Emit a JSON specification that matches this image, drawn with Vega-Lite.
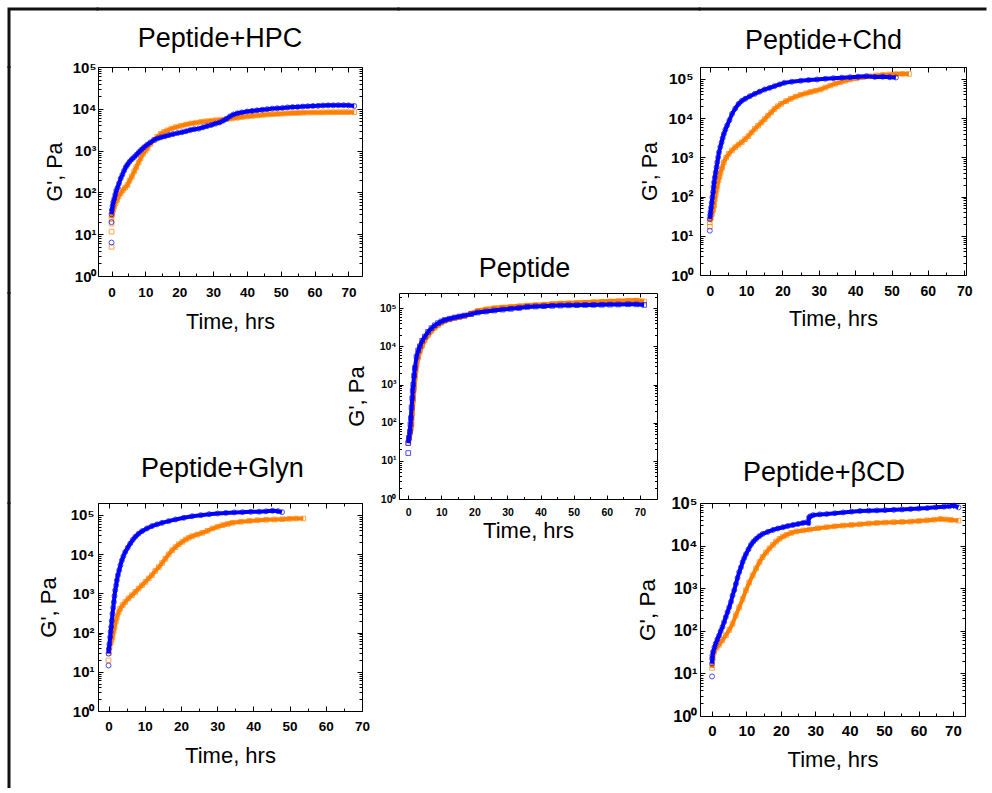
{
"$schema": "https://vega.github.io/schema/vega-lite/v6.json",
"padding": {"left": 6, "top": 6, "right": 0, "bottom": 0},
"background": "white",
"config": {
 "view": {"stroke": "#000", "strokeWidth": 1},
 "font": "Liberation Sans",
 "axis": {"grid": false, "domain": false, "tickColor": "#000", "tickWidth": 1, "labelColor": "#000", "labelFontWeight": "bold", "labelFlush": false, "labelOverlap": false, "labelBound": false, "titleColor": "#000", "titleFontWeight": "normal", "labelFont": "Liberation Sans", "titleFont": "Liberation Sans"},
 "title": {"font": "Liberation Sans", "fontSize": 27, "fontWeight": "normal", "color": "#000", "anchor": "middle", "frame": "group", "baseline": "alphabetic"}
},
"datasets": {
 "hpc": [
  {"s":"o","t":0,"g":5,"i":1},{"s":"o","t":0,"g":11.5,"i":1},{"s":"o","t":0,"g":18,"i":1},
  {"s":"o","t":0,"g":24},{"s":"o","t":0.2,"g":30},{"s":"o","t":0.5,"g":38},{"s":"o","t":0.8,"g":46},{"s":"o","t":1.2,"g":56},{"s":"o","t":1.6,"g":66},{"s":"o","t":2.1,"g":80},{"s":"o","t":2.7,"g":95},{"s":"o","t":3.3,"g":112},{"s":"o","t":4,"g":130},{"s":"o","t":4.7,"g":150},{"s":"o","t":5.3,"g":190},{"s":"o","t":6,"g":240},{"s":"o","t":6.7,"g":317},{"s":"o","t":7.3,"g":400},{"s":"o","t":8,"g":520},{"s":"o","t":8.6,"g":660},{"s":"o","t":9.3,"g":830},{"s":"o","t":10,"g":1000},{"s":"o","t":10.6,"g":1130},{"s":"o","t":11.5,"g":1450},{"s":"o","t":12.6,"g":1800},{"s":"o","t":13.5,"g":2150},{"s":"o","t":14.5,"g":2500},{"s":"o","t":15.5,"g":2800},{"s":"o","t":16.5,"g":3050},{"s":"o","t":17.7,"g":3350},{"s":"o","t":19,"g":3650},{"s":"o","t":20.5,"g":3900},{"s":"o","t":22,"g":4200},{"s":"o","t":23.5,"g":4450},{"s":"o","t":25,"g":4650},{"s":"o","t":26.5,"g":4850},{"s":"o","t":28,"g":5050},{"s":"o","t":29.5,"g":5200},{"s":"o","t":31,"g":5350},{"s":"o","t":32.5,"g":5500},{"s":"o","t":34,"g":5650},{"s":"o","t":35.5,"g":5850},{"s":"o","t":37,"g":6100},{"s":"o","t":38.5,"g":6350},{"s":"o","t":40,"g":6550},{"s":"o","t":41.5,"g":6750},{"s":"o","t":43,"g":6950},{"s":"o","t":44.5,"g":7100},{"s":"o","t":46,"g":7300},{"s":"o","t":47.5,"g":7450},{"s":"o","t":49,"g":7550},{"s":"o","t":50.5,"g":7650},{"s":"o","t":52,"g":7800},{"s":"o","t":53.5,"g":7900},{"s":"o","t":55,"g":7950},{"s":"o","t":56.5,"g":8050},{"s":"o","t":58,"g":8100},{"s":"o","t":59.5,"g":8150},{"s":"o","t":61,"g":8200},{"s":"o","t":62.5,"g":8200},{"s":"o","t":64,"g":8250},{"s":"o","t":65.5,"g":8250},{"s":"o","t":67,"g":8300},{"s":"o","t":68.5,"g":8300},{"s":"o","t":70,"g":8300},{"s":"o","t":71.7,"g":8300},
  {"s":"b","t":0,"g":6.3,"i":1},{"s":"b","t":0,"g":19.5,"i":1},
  {"s":"b","t":0,"g":30},{"s":"b","t":0.1,"g":38},{"s":"b","t":0.3,"g":47},{"s":"b","t":0.5,"g":58},{"s":"b","t":0.8,"g":70},{"s":"b","t":1.1,"g":88},{"s":"b","t":1.4,"g":110},{"s":"b","t":1.8,"g":130},{"s":"b","t":2.2,"g":165},{"s":"b","t":2.7,"g":215},{"s":"b","t":3.2,"g":265},{"s":"b","t":3.7,"g":330},{"s":"b","t":4.2,"g":400},{"s":"b","t":4.7,"g":460},{"s":"b","t":5.3,"g":540},{"s":"b","t":6,"g":620},{"s":"b","t":6.7,"g":700},{"s":"b","t":7.4,"g":800},{"s":"b","t":8.1,"g":920},{"s":"b","t":8.8,"g":1050},{"s":"b","t":9.6,"g":1200},{"s":"b","t":10.5,"g":1380},{"s":"b","t":11.5,"g":1580},{"s":"b","t":12.6,"g":1800},{"s":"b","t":13.6,"g":1950},{"s":"b","t":14.6,"g":2080},{"s":"b","t":15.8,"g":2200},{"s":"b","t":17,"g":2350},{"s":"b","t":18.2,"g":2480},{"s":"b","t":19.5,"g":2620},{"s":"b","t":20.8,"g":2750},{"s":"b","t":22,"g":2900},{"s":"b","t":23.3,"g":3100},{"s":"b","t":24.5,"g":3250},{"s":"b","t":25.8,"g":3350},{"s":"b","t":27,"g":3600},{"s":"b","t":28.2,"g":3850},{"s":"b","t":29.5,"g":4100},{"s":"b","t":30.7,"g":4400},{"s":"b","t":31.9,"g":4700},{"s":"b","t":33,"g":5200},{"s":"b","t":34,"g":5800},{"s":"b","t":35,"g":6600},{"s":"b","t":36,"g":7300},{"s":"b","t":37.2,"g":7800},{"s":"b","t":38.5,"g":8200},{"s":"b","t":40,"g":8600},{"s":"b","t":41.5,"g":8900},{"s":"b","t":43,"g":9200},{"s":"b","t":44.5,"g":9500},{"s":"b","t":46,"g":9800},{"s":"b","t":47.5,"g":10100},{"s":"b","t":49,"g":10300},{"s":"b","t":50.5,"g":10500},{"s":"b","t":52,"g":10800},{"s":"b","t":53.5,"g":11000},{"s":"b","t":55,"g":11100},{"s":"b","t":56.5,"g":11300},{"s":"b","t":58,"g":11500},{"s":"b","t":59.5,"g":11700},{"s":"b","t":61,"g":11800},{"s":"b","t":62.5,"g":12000},{"s":"b","t":64,"g":12100},{"s":"b","t":65.5,"g":12100},{"s":"b","t":67,"g":12200},{"s":"b","t":68.5,"g":12200},{"s":"b","t":70,"g":12100},{"s":"b","t":71.7,"g":11700}
 ],
 "chd": [
  {"s":"o","t":0,"g":17,"i":1},
  {"s":"o","t":0,"g":22},{"s":"o","t":0.3,"g":28},{"s":"o","t":0.6,"g":36},{"s":"o","t":0.9,"g":46},{"s":"o","t":1.17,"g":59},{"s":"o","t":1.4,"g":85},{"s":"o","t":1.62,"g":115},{"s":"o","t":1.85,"g":150},{"s":"o","t":2.07,"g":190},{"s":"o","t":2.4,"g":260},{"s":"o","t":2.7,"g":330},{"s":"o","t":2.97,"g":415},{"s":"o","t":3.4,"g":550},{"s":"o","t":3.87,"g":750},{"s":"o","t":4.5,"g":980},{"s":"o","t":5.2,"g":1220},{"s":"o","t":6.1,"g":1500},{"s":"o","t":7,"g":1800},{"s":"o","t":7.9,"g":2100},{"s":"o","t":8.8,"g":2420},{"s":"o","t":9.7,"g":2900},{"s":"o","t":10.6,"g":3450},{"s":"o","t":11.5,"g":4300},{"s":"o","t":12.4,"g":5300},{"s":"o","t":13.3,"g":6400},{"s":"o","t":14.2,"g":7700},{"s":"o","t":15.1,"g":9400},{"s":"o","t":16,"g":11500},{"s":"o","t":16.9,"g":14000},{"s":"o","t":17.8,"g":17000},{"s":"o","t":18.7,"g":20000},{"s":"o","t":19.6,"g":23000},{"s":"o","t":21,"g":27000},{"s":"o","t":22.3,"g":31000},{"s":"o","t":23.6,"g":35000},{"s":"o","t":25,"g":39000},{"s":"o","t":26.4,"g":42500},{"s":"o","t":27.7,"g":46000},{"s":"o","t":29.1,"g":49500},{"s":"o","t":30.5,"g":53500},{"s":"o","t":31.8,"g":60000},{"s":"o","t":33.2,"g":67500},{"s":"o","t":34.5,"g":75000},{"s":"o","t":35.9,"g":82000},{"s":"o","t":37.2,"g":89000},{"s":"o","t":38.6,"g":96000},{"s":"o","t":40.4,"g":103000},{"s":"o","t":42.2,"g":110000},{"s":"o","t":44,"g":116000},{"s":"o","t":45.8,"g":122000},{"s":"o","t":47.6,"g":126000},{"s":"o","t":49.4,"g":129000},{"s":"o","t":51.2,"g":132000},{"s":"o","t":53,"g":134000},{"s":"o","t":54.8,"g":133000},
  {"s":"b","t":0,"g":13.5,"i":1},
  {"s":"b","t":0,"g":27},{"s":"b","t":0.1,"g":33},{"s":"b","t":0.2,"g":40},{"s":"b","t":0.35,"g":52},{"s":"b","t":0.54,"g":70},{"s":"b","t":0.7,"g":95},{"s":"b","t":0.9,"g":130},{"s":"b","t":1.05,"g":175},{"s":"b","t":1.17,"g":230},{"s":"b","t":1.4,"g":310},{"s":"b","t":1.62,"g":415},{"s":"b","t":1.85,"g":560},{"s":"b","t":2.07,"g":750},{"s":"b","t":2.3,"g":1000},{"s":"b","t":2.52,"g":1340},{"s":"b","t":2.9,"g":1850},{"s":"b","t":3.24,"g":2400},{"s":"b","t":3.55,"g":3100},{"s":"b","t":3.87,"g":3950},{"s":"b","t":4.3,"g":5100},{"s":"b","t":4.77,"g":6500},{"s":"b","t":5.4,"g":8800},{"s":"b","t":6.13,"g":12800},{"s":"b","t":7,"g":17500},{"s":"b","t":7.93,"g":23000},{"s":"b","t":8.8,"g":27500},{"s":"b","t":9.73,"g":31000},{"s":"b","t":11,"g":36000},{"s":"b","t":12.4,"g":41500},{"s":"b","t":13.7,"g":47000},{"s":"b","t":15.1,"g":53500},{"s":"b","t":16.5,"g":59000},{"s":"b","t":17.8,"g":65000},{"s":"b","t":19.2,"g":72000},{"s":"b","t":20.5,"g":79000},{"s":"b","t":22.5,"g":84000},{"s":"b","t":25,"g":89000},{"s":"b","t":27.2,"g":93000},{"s":"b","t":29.5,"g":96000},{"s":"b","t":31.8,"g":100000},{"s":"b","t":34,"g":104000},{"s":"b","t":36.3,"g":107000},{"s":"b","t":38.6,"g":110000},{"s":"b","t":40.8,"g":113000},{"s":"b","t":43.1,"g":117000},{"s":"b","t":45.4,"g":112000},{"s":"b","t":47.6,"g":113000},{"s":"b","t":49.5,"g":110000},{"s":"b","t":51.2,"g":108000}
 ],
 "pep": [
  {"s":"o","t":0,"g":30},{"s":"o","t":0.3,"g":40},{"s":"o","t":0.6,"g":55},{"s":"o","t":0.8,"g":70},{"s":"o","t":1,"g":89},{"s":"o","t":1.2,"g":180},{"s":"o","t":1.5,"g":400},{"s":"o","t":1.75,"g":800},{"s":"o","t":2,"g":1480},{"s":"o","t":2.25,"g":2300},{"s":"o","t":2.5,"g":3300},{"s":"o","t":3,"g":5200},{"s":"o","t":3.5,"g":7400},{"s":"o","t":4.2,"g":10500},{"s":"o","t":5,"g":14800},{"s":"o","t":6,"g":20000},{"s":"o","t":7,"g":25500},{"s":"o","t":8,"g":31000},{"s":"o","t":9,"g":36500},{"s":"o","t":10,"g":41500},{"s":"o","t":11,"g":46500},{"s":"o","t":12.5,"g":51000},{"s":"o","t":14,"g":55000},{"s":"o","t":15.5,"g":58500},{"s":"o","t":17,"g":63000},{"s":"o","t":19,"g":72000},{"s":"o","t":21,"g":85000},{"s":"o","t":23.5,"g":93000},{"s":"o","t":26,"g":100000},{"s":"o","t":28.5,"g":104000},{"s":"o","t":31,"g":108000},{"s":"o","t":33.5,"g":112000},{"s":"o","t":36,"g":117000},{"s":"o","t":38.5,"g":120000},{"s":"o","t":41,"g":124000},{"s":"o","t":43.5,"g":128000},{"s":"o","t":46,"g":132000},{"s":"o","t":48.5,"g":134000},{"s":"o","t":51,"g":137000},{"s":"o","t":53.5,"g":140000},{"s":"o","t":56,"g":144000},{"s":"o","t":58.5,"g":147000},{"s":"o","t":61,"g":150000},{"s":"o","t":63.5,"g":153000},{"s":"o","t":66.5,"g":156000},{"s":"o","t":69,"g":158000},{"s":"o","t":71.3,"g":150000},
  {"s":"b","t":0,"g":16,"i":1},
  {"s":"b","t":0,"g":29},{"s":"b","t":0.2,"g":40},{"s":"b","t":0.5,"g":59},{"s":"b","t":0.65,"g":90},{"s":"b","t":0.8,"g":132},{"s":"b","t":1,"g":250},{"s":"b","t":1.2,"g":435},{"s":"b","t":1.35,"g":700},{"s":"b","t":1.5,"g":980},{"s":"b","t":1.75,"g":1700},{"s":"b","t":2,"g":2700},{"s":"b","t":2.5,"g":5400},{"s":"b","t":3,"g":7800},{"s":"b","t":3.5,"g":10000},{"s":"b","t":4.2,"g":14000},{"s":"b","t":5,"g":18000},{"s":"b","t":6,"g":24000},{"s":"b","t":7,"g":30000},{"s":"b","t":8,"g":35500},{"s":"b","t":9,"g":40500},{"s":"b","t":10,"g":45000},{"s":"b","t":11,"g":49000},{"s":"b","t":12.5,"g":53000},{"s":"b","t":14,"g":57000},{"s":"b","t":15.5,"g":60500},{"s":"b","t":17,"g":64000},{"s":"b","t":19,"g":70000},{"s":"b","t":21,"g":77000},{"s":"b","t":23.5,"g":82000},{"s":"b","t":26,"g":87000},{"s":"b","t":28.5,"g":92000},{"s":"b","t":31,"g":96000},{"s":"b","t":33.5,"g":101000},{"s":"b","t":36,"g":108000},{"s":"b","t":38.5,"g":111000},{"s":"b","t":41,"g":113000},{"s":"b","t":43.5,"g":115000},{"s":"b","t":46,"g":117000},{"s":"b","t":48.5,"g":119000},{"s":"b","t":51,"g":120000},{"s":"b","t":53.5,"g":121000},{"s":"b","t":56,"g":122000},{"s":"b","t":58.5,"g":123000},{"s":"b","t":61,"g":124000},{"s":"b","t":63.5,"g":125000},{"s":"b","t":66.5,"g":127000},{"s":"b","t":69,"g":126000},{"s":"b","t":71.3,"g":122000}
 ],
 "glyn": [
  {"s":"o","t":0,"g":19.5,"i":1},
  {"s":"o","t":0.1,"g":30},{"s":"o","t":0.3,"g":43},{"s":"o","t":0.6,"g":55},{"s":"o","t":0.85,"g":65},{"s":"o","t":1.1,"g":76},{"s":"o","t":1.4,"g":105},{"s":"o","t":1.67,"g":138},{"s":"o","t":2,"g":190},{"s":"o","t":2.31,"g":246},{"s":"o","t":2.8,"g":330},{"s":"o","t":3.24,"g":405},{"s":"o","t":3.9,"g":500},{"s":"o","t":4.63,"g":600},{"s":"o","t":5.5,"g":740},{"s":"o","t":6.48,"g":890},{"s":"o","t":7.4,"g":1080},{"s":"o","t":8.33,"g":1320},{"s":"o","t":9.25,"g":1600},{"s":"o","t":10.2,"g":1950},{"s":"o","t":11.1,"g":2400},{"s":"o","t":12,"g":2900},{"s":"o","t":12.9,"g":3700},{"s":"o","t":13.9,"g":4650},{"s":"o","t":14.8,"g":5900},{"s":"o","t":15.7,"g":7600},{"s":"o","t":16.6,"g":9800},{"s":"o","t":17.6,"g":12500},{"s":"o","t":18.5,"g":15000},{"s":"o","t":19.4,"g":17800},{"s":"o","t":20.4,"g":20500},{"s":"o","t":21.3,"g":23400},{"s":"o","t":22.2,"g":26000},{"s":"o","t":23.1,"g":28500},{"s":"o","t":24.5,"g":31500},{"s":"o","t":25.9,"g":34600},{"s":"o","t":27.3,"g":39000},{"s":"o","t":28.7,"g":44800},{"s":"o","t":30.1,"g":49500},{"s":"o","t":31.5,"g":54500},{"s":"o","t":32.9,"g":58500},{"s":"o","t":34.2,"g":62500},{"s":"o","t":36.5,"g":66500},{"s":"o","t":38.9,"g":70000},{"s":"o","t":41.2,"g":72500},{"s":"o","t":43.5,"g":74600},{"s":"o","t":45.8,"g":76000},{"s":"o","t":48.1,"g":77500},{"s":"o","t":50,"g":79000},{"s":"o","t":51.8,"g":80600},{"s":"o","t":53.8,"g":80600},
  {"s":"b","t":0,"g":14.5,"i":1},
  {"s":"b","t":0,"g":29},{"s":"b","t":0.1,"g":38},{"s":"b","t":0.25,"g":51},{"s":"b","t":0.46,"g":76},{"s":"b","t":0.6,"g":105},{"s":"b","t":0.74,"g":138},{"s":"b","t":0.9,"g":200},{"s":"b","t":1.1,"g":300},{"s":"b","t":1.3,"g":430},{"s":"b","t":1.48,"g":600},{"s":"b","t":1.65,"g":850},{"s":"b","t":1.85,"g":1200},{"s":"b","t":2.1,"g":1600},{"s":"b","t":2.31,"g":2150},{"s":"b","t":2.6,"g":2900},{"s":"b","t":2.96,"g":3900},{"s":"b","t":3.3,"g":5200},{"s":"b","t":3.7,"g":6900},{"s":"b","t":4.1,"g":8800},{"s":"b","t":4.63,"g":11300},{"s":"b","t":5.3,"g":14500},{"s":"b","t":6,"g":18500},{"s":"b","t":6.7,"g":23000},{"s":"b","t":7.4,"g":27500},{"s":"b","t":8.3,"g":33000},{"s":"b","t":9.25,"g":38300},{"s":"b","t":10.6,"g":45000},{"s":"b","t":12,"g":51600},{"s":"b","t":13.4,"g":57000},{"s":"b","t":14.8,"g":62500},{"s":"b","t":16.6,"g":69000},{"s":"b","t":18.5,"g":76000},{"s":"b","t":20.8,"g":84000},{"s":"b","t":23.1,"g":92000},{"s":"b","t":25.5,"g":98000},{"s":"b","t":27.8,"g":104000},{"s":"b","t":30.1,"g":108000},{"s":"b","t":32.4,"g":112000},{"s":"b","t":34.7,"g":115000},{"s":"b","t":37,"g":117000},{"s":"b","t":39.3,"g":119000},{"s":"b","t":41.6,"g":120000},{"s":"b","t":43.5,"g":123000},{"s":"b","t":45.3,"g":127000},{"s":"b","t":46.8,"g":124000},{"s":"b","t":47.9,"g":117000}
 ],
 "bcd": [
  {"s":"o","t":0,"g":13.5},{"s":"o","t":0.2,"g":22},{"s":"o","t":0.6,"g":32},{"s":"o","t":1.3,"g":40},{"s":"o","t":2.05,"g":47},{"s":"o","t":3,"g":60},{"s":"o","t":4,"g":78},{"s":"o","t":5,"g":105},{"s":"o","t":5.95,"g":145},{"s":"o","t":6.9,"g":230},{"s":"o","t":7.9,"g":356},{"s":"o","t":8.9,"g":560},{"s":"o","t":9.85,"g":890},{"s":"o","t":10.8,"g":1350},{"s":"o","t":11.8,"g":2000},{"s":"o","t":12.8,"g":2900},{"s":"o","t":13.8,"g":4100},{"s":"o","t":14.7,"g":5400},{"s":"o","t":15.7,"g":6900},{"s":"o","t":16.7,"g":8600},{"s":"o","t":17.7,"g":10400},{"s":"o","t":18.6,"g":12400},{"s":"o","t":19.6,"g":14400},{"s":"o","t":20.6,"g":16200},{"s":"o","t":21.6,"g":17800},{"s":"o","t":23,"g":19800},{"s":"o","t":24.5,"g":21500},{"s":"o","t":26.5,"g":22700},{"s":"o","t":28.4,"g":23800},{"s":"o","t":30.8,"g":25500},{"s":"o","t":33.3,"g":27000},{"s":"o","t":35.7,"g":28300},{"s":"o","t":38.1,"g":29500},{"s":"o","t":40.5,"g":30500},{"s":"o","t":43,"g":31600},{"s":"o","t":45.5,"g":33000},{"s":"o","t":47.9,"g":34000},{"s":"o","t":50.3,"g":34700},{"s":"o","t":52.8,"g":35400},{"s":"o","t":55.2,"g":36000},{"s":"o","t":57.7,"g":36600},{"s":"o","t":60.1,"g":37800},{"s":"o","t":62.5,"g":39200},{"s":"o","t":64.5,"g":40500},{"s":"o","t":66.4,"g":42300},{"s":"o","t":68,"g":41000},{"s":"o","t":69.4,"g":40000},{"s":"o","t":71.6,"g":38600},
  {"s":"b","t":0,"g":8.5,"i":1},
  {"s":"b","t":0,"g":17},{"s":"b","t":0.05,"g":22},{"s":"b","t":0.1,"g":26},{"s":"b","t":0.3,"g":32},{"s":"b","t":0.7,"g":41},{"s":"b","t":1.07,"g":50},{"s":"b","t":1.55,"g":63},{"s":"b","t":2.05,"g":78},{"s":"b","t":2.5,"g":98},{"s":"b","t":3.02,"g":123},{"s":"b","t":3.5,"g":160},{"s":"b","t":4,"g":210},{"s":"b","t":4.5,"g":275},{"s":"b","t":4.98,"g":356},{"s":"b","t":5.5,"g":480},{"s":"b","t":5.95,"g":670},{"s":"b","t":6.45,"g":900},{"s":"b","t":6.93,"g":1260},{"s":"b","t":7.4,"g":1750},{"s":"b","t":7.9,"g":2400},{"s":"b","t":8.4,"g":3100},{"s":"b","t":8.88,"g":4100},{"s":"b","t":9.35,"g":5100},{"s":"b","t":9.85,"g":6300},{"s":"b","t":10.6,"g":8200},{"s":"b","t":11.3,"g":10400},{"s":"b","t":12,"g":12400},{"s":"b","t":12.8,"g":14400},{"s":"b","t":13.7,"g":16600},{"s":"b","t":14.7,"g":18800},{"s":"b","t":16.2,"g":21000},{"s":"b","t":17.7,"g":23300},{"s":"b","t":19.1,"g":25200},{"s":"b","t":20.6,"g":27000},{"s":"b","t":22,"g":28800},{"s":"b","t":23.5,"g":30500},{"s":"b","t":25,"g":32200},{"s":"b","t":26.4,"g":34000},{"s":"b","t":27.5,"g":35400},{"s":"b","t":28,"g":34000},{"s":"b","t":28.2,"g":46000},{"s":"b","t":28.6,"g":49000},{"s":"b","t":29.4,"g":52000},{"s":"b","t":31.3,"g":54000},{"s":"b","t":33.3,"g":55000},{"s":"b","t":35.7,"g":57500},{"s":"b","t":38.1,"g":60000},{"s":"b","t":40.5,"g":62500},{"s":"b","t":43,"g":65000},{"s":"b","t":45.5,"g":66000},{"s":"b","t":47.9,"g":67000},{"s":"b","t":50.3,"g":68000},{"s":"b","t":52.8,"g":69000},{"s":"b","t":55.2,"g":70500},{"s":"b","t":57.7,"g":72000},{"s":"b","t":60.1,"g":74000},{"s":"b","t":62.5,"g":76000},{"s":"b","t":65,"g":79000},{"s":"b","t":67.4,"g":82000},{"s":"b","t":69,"g":84000},{"s":"b","t":70.3,"g":87000},{"s":"b","t":71.6,"g":79000}
 ]
},
"columns": 4, "align": "each", "bounds": "flush", "spacing": 0,
"concat": [
 {"width": 89, "height": 58, "data": {"values": []}, "mark": "point", "encoding": {}, "view": {"stroke": "#111", "strokeWidth": 3, "strokeCap": "square", "strokeDash": [88, 148.5, 57, 0.5]}},
 {"width": 301, "height": 58, "data": {"values": []}, "mark": "point", "encoding": {}, "view": {"stroke": "#111", "strokeWidth": 3, "strokeCap": "square", "strokeDash": [300, 418]}},
 {"width": 301, "height": 58, "data": {"values": []}, "mark": "point", "encoding": {}, "view": {"stroke": "#111", "strokeWidth": 3, "strokeCap": "square", "strokeDash": [300, 418]}},
 {"width": 286, "height": 58, "data": {"values": []}, "mark": "point", "encoding": {}, "view": {"stroke": "#111", "strokeWidth": 3, "strokeCap": "square", "strokeDash": [285, 403]}},

 {"width": 89, "height": 226, "data": {"values": []}, "mark": "point", "encoding": {}, "view": {"stroke": "#111", "strokeWidth": 3, "strokeCap": "square", "strokeDash": [225, 405], "strokeDashOffset": 225.5}},
 {"width": 264, "height": 209,
  "title": {"text": "Peptide+HPC", "dx": -10, "offset": 7.5},
  "data": {"name": "hpc"},
  "encoding": {"x": {"field": "t", "type": "quantitative", "scale": {"domain": [-4, 74], "nice": false, "zero": false}, "axis": null}, "y": {"field": "g", "type": "quantitative", "scale": {"type": "log", "domain": [1, 100000], "nice": false}, "axis": null}},
  "layer": [
   {"transform": [{"filter": "datum.s=='o' && !datum.i"}], "mark": {"type": "line", "color": "#FF8000", "strokeWidth": 4}},
   {"transform": [{"filter": "datum.s=='o'"}], "mark": {"type": "point", "shape": "square", "color": "#FF8000", "size": 22, "strokeWidth": 1}},
   {"transform": [{"filter": "datum.s=='b' && !datum.i"}], "mark": {"type": "line", "color": "#0000FF", "strokeWidth": 4}},
   {"transform": [{"filter": "datum.s=='b'"}], "mark": {"type": "point", "shape": "circle", "color": "#0000FF", "size": 25, "strokeWidth": 1}},
   {"data": {"values": []}, "mark": "point",
    "encoding": {
     "x": {"field": "t", "type": "quantitative", "scale": {"domain": [-4, 74], "nice": false, "zero": false}, "axis": {"orient": "bottom", "values": [0,5,10,15,20,25,30,35,40,45,50,55,60,65,70], "labelExpr": "datum.value % 10 === 0 ? datum.label : ''", "tickSize": {"condition": {"test": "datum.value % 10 === 0", "value": -5}, "value": -3}, "labelFontSize": 13.5, "labelPadding": 14, "title": "Time, hrs", "titleFontSize": 21.5, "titlePadding": 11}},
     "y": {"field": "g", "type": "quantitative", "scale": {"type": "log", "domain": [1, 100000], "nice": false}, "axis": {"orient": "left", "values": [1,2,3,4,5,6,7,8,9,10,20,30,40,50,60,70,80,90,100,200,300,400,500,600,700,800,900,1000,2000,3000,4000,5000,6000,7000,8000,9000,10000,20000,30000,40000,50000,60000,70000,80000,90000,100000], "labelExpr": "indexof([1,10,100,1000,10000,100000], datum.value) >= 0 ? '10' + ['⁰','¹','²','³','⁴','⁵'][round(log(datum.value)/LN10)] : ''", "tickSize": {"condition": {"test": "indexof([1,10,100,1000,10000,100000], datum.value) >= 0", "value": -5}, "value": -3}, "labelFontSize": 15, "labelPadding": 7, "title": "G', Pa", "titleFontSize": 21.5, "titlePadding": 5}}
    }},
   {"data": {"values": []}, "mark": "point",
    "encoding": {
     "x": {"field": "t", "type": "quantitative", "scale": {"domain": [-4, 74], "nice": false, "zero": false}, "axis": {"orient": "top", "values": [0,5,10,15,20,25,30,35,40,45,50,55,60,65,70], "labels": false, "title": null, "tickSize": {"condition": {"test": "datum.value % 10 === 0", "value": -5}, "value": -3}}},
     "y": {"field": "g", "type": "quantitative", "scale": {"type": "log", "domain": [1, 100000], "nice": false}, "axis": {"orient": "right", "values": [1,2,3,4,5,6,7,8,9,10,20,30,40,50,60,70,80,90,100,200,300,400,500,600,700,800,900,1000,2000,3000,4000,5000,6000,7000,8000,9000,10000,20000,30000,40000,50000,60000,70000,80000,90000,100000], "labels": false, "title": null, "tickSize": {"condition": {"test": "indexof([1,10,100,1000,10000,100000], datum.value) >= 0", "value": -5}, "value": -3}}}
    }}
  ],
  "resolve": {"axis": {"x": "independent", "y": "independent"}}
 },
 {"width": 301, "height": 1, "data": {"values": []}, "mark": "point", "encoding": {}, "view": {"stroke": null}},
 {"width": 266, "height": 208,
  "title": {"text": "Peptide+Chd", "dx": -9.5, "offset": 5.5},
  "data": {"name": "chd"},
  "encoding": {"x": {"field": "t", "type": "quantitative", "scale": {"domain": [-2.7, 70.5], "nice": false, "zero": false}, "axis": null}, "y": {"field": "g", "type": "quantitative", "scale": {"type": "log", "domain": [1, 200000], "nice": false}, "axis": null}},
  "layer": [
   {"transform": [{"filter": "datum.s=='o' && !datum.i"}], "mark": {"type": "line", "color": "#FF8000", "strokeWidth": 4}},
   {"transform": [{"filter": "datum.s=='o'"}], "mark": {"type": "point", "shape": "square", "color": "#FF8000", "size": 22, "strokeWidth": 1}},
   {"transform": [{"filter": "datum.s=='b' && !datum.i"}], "mark": {"type": "line", "color": "#0000FF", "strokeWidth": 4}},
   {"transform": [{"filter": "datum.s=='b'"}], "mark": {"type": "point", "shape": "circle", "color": "#0000FF", "size": 25, "strokeWidth": 1}},
   {"data": {"values": []}, "mark": "point",
    "encoding": {
     "x": {"field": "t", "type": "quantitative", "scale": {"domain": [-2.7, 70.5], "nice": false, "zero": false}, "axis": {"orient": "bottom", "values": [0,5,10,15,20,25,30,35,40,45,50,55,60,65,70], "labelExpr": "datum.value % 10 === 0 ? datum.label : ''", "tickSize": {"condition": {"test": "datum.value % 10 === 0", "value": -5}, "value": -3}, "labelFontSize": 14, "labelPadding": 14, "title": "Time, hrs", "titleFontSize": 21.5, "titlePadding": 8}},
     "y": {"field": "g", "type": "quantitative", "scale": {"type": "log", "domain": [1, 200000], "nice": false}, "axis": {"orient": "left", "values": [1,2,3,4,5,6,7,8,9,10,20,30,40,50,60,70,80,90,100,200,300,400,500,600,700,800,900,1000,2000,3000,4000,5000,6000,7000,8000,9000,10000,20000,30000,40000,50000,60000,70000,80000,90000,100000,200000], "labelExpr": "indexof([1,10,100,1000,10000,100000], datum.value) >= 0 ? '10' + ['⁰','¹','²','³','⁴','⁵'][round(log(datum.value)/LN10)] : ''", "tickSize": {"condition": {"test": "indexof([1,10,100,1000,10000,100000], datum.value) >= 0", "value": -5}, "value": -3}, "labelFontSize": 15.5, "labelPadding": 12, "title": "G', Pa", "titleFontSize": 21.5, "titlePadding": 7}}
    }},
   {"data": {"values": []}, "mark": "point",
    "encoding": {
     "x": {"field": "t", "type": "quantitative", "scale": {"domain": [-2.7, 70.5], "nice": false, "zero": false}, "axis": {"orient": "top", "values": [0,5,10,15,20,25,30,35,40,45,50,55,60,65,70], "labels": false, "title": null, "tickSize": {"condition": {"test": "datum.value % 10 === 0", "value": -5}, "value": -3}}},
     "y": {"field": "g", "type": "quantitative", "scale": {"type": "log", "domain": [1, 200000], "nice": false}, "axis": {"orient": "right", "values": [1,2,3,4,5,6,7,8,9,10,20,30,40,50,60,70,80,90,100,200,300,400,500,600,700,800,900,1000,2000,3000,4000,5000,6000,7000,8000,9000,10000,20000,30000,40000,50000,60000,70000,80000,90000,100000,200000], "labels": false, "title": null, "tickSize": {"condition": {"test": "indexof([1,10,100,1000,10000,100000], datum.value) >= 0", "value": -5}, "value": -3}}}
    }}
  ],
  "resolve": {"axis": {"x": "independent", "y": "independent"}}
 },

 {"width": 89, "height": 210, "data": {"values": []}, "mark": "point", "encoding": {}, "view": {"stroke": "#111", "strokeWidth": 3, "strokeCap": "square", "strokeDash": [209, 389], "strokeDashOffset": 209.5}},
 {"width": 301, "height": 1, "data": {"values": []}, "mark": "point", "encoding": {}, "view": {"stroke": null}},
 {"width": 258, "height": 206,
  "title": {"text": "Peptide", "dx": -3.5, "offset": 8},
  "data": {"name": "pep"},
  "encoding": {"x": {"field": "t", "type": "quantitative", "scale": {"domain": [-2.8, 75.2], "nice": false, "zero": false}, "axis": null}, "y": {"field": "g", "type": "quantitative", "scale": {"type": "log", "domain": [1, 250000], "nice": false}, "axis": null}},
  "layer": [
   {"transform": [{"filter": "datum.s=='o' && !datum.i"}], "mark": {"type": "line", "color": "#FF8000", "strokeWidth": 5}},
   {"transform": [{"filter": "datum.s=='o'"}], "mark": {"type": "point", "shape": "square", "color": "#FF8000", "size": 22, "strokeWidth": 1}},
   {"transform": [{"filter": "datum.s=='b' && !datum.i"}], "mark": {"type": "line", "color": "#0000FF", "strokeWidth": 4}},
   {"transform": [{"filter": "datum.s=='b'"}], "mark": {"type": "point", "shape": "square", "color": "#0000FF", "size": 22, "strokeWidth": 1}},
   {"data": {"values": []}, "mark": "point",
    "encoding": {
     "x": {"field": "t", "type": "quantitative", "scale": {"domain": [-2.8, 75.2], "nice": false, "zero": false}, "axis": {"orient": "bottom", "values": [0,5,10,15,20,25,30,35,40,45,50,55,60,65,70], "labelExpr": "datum.value % 10 === 0 ? datum.label : ''", "tickSize": {"condition": {"test": "datum.value % 10 === 0", "value": -4}, "value": -2.5}, "labelFontSize": 10.5, "labelPadding": 12, "title": "Time, hrs", "titleFontSize": 22, "titlePadding": 1}},
     "y": {"field": "g", "type": "quantitative", "scale": {"type": "log", "domain": [1, 250000], "nice": false}, "axis": {"orient": "left", "values": [1,2,3,4,5,6,7,8,9,10,20,30,40,50,60,70,80,90,100,200,300,400,500,600,700,800,900,1000,2000,3000,4000,5000,6000,7000,8000,9000,10000,20000,30000,40000,50000,60000,70000,80000,90000,100000,200000], "labelExpr": "indexof([1,10,100,1000,10000,100000], datum.value) >= 0 ? '10' + ['⁰','¹','²','³','⁴','⁵'][round(log(datum.value)/LN10)] : ''", "tickSize": {"condition": {"test": "indexof([1,10,100,1000,10000,100000], datum.value) >= 0", "value": -4}, "value": -2.5}, "labelFontSize": 10.5, "labelPadding": 7, "title": "G', Pa", "titleFontSize": 22, "titlePadding": 11}}
    }},
   {"data": {"values": []}, "mark": "point",
    "encoding": {
     "x": {"field": "t", "type": "quantitative", "scale": {"domain": [-2.8, 75.2], "nice": false, "zero": false}, "axis": {"orient": "top", "values": [0,5,10,15,20,25,30,35,40,45,50,55,60,65,70], "labels": false, "title": null, "tickSize": {"condition": {"test": "datum.value % 10 === 0", "value": -4}, "value": -2.5}}},
     "y": {"field": "g", "type": "quantitative", "scale": {"type": "log", "domain": [1, 250000], "nice": false}, "axis": {"orient": "right", "values": [1,2,3,4,5,6,7,8,9,10,20,30,40,50,60,70,80,90,100,200,300,400,500,600,700,800,900,1000,2000,3000,4000,5000,6000,7000,8000,9000,10000,20000,30000,40000,50000,60000,70000,80000,90000,100000,200000], "labels": false, "title": null, "tickSize": {"condition": {"test": "indexof([1,10,100,1000,10000,100000], datum.value) >= 0", "value": -4}, "value": -2.5}}}
    }}
  ],
  "resolve": {"axis": {"x": "independent", "y": "independent"}}
 },
 {"width": 1, "height": 1, "data": {"values": []}, "mark": "point", "encoding": {}, "view": {"stroke": null}},

 {"width": 89, "height": 284, "data": {"values": []}, "mark": "point", "encoding": {}, "view": {"stroke": "#111", "strokeWidth": 3, "strokeCap": "square", "strokeDash": [283, 463], "strokeDashOffset": 283.5}},
 {"width": 264, "height": 208,
  "title": {"text": "Peptide+Glyn", "dx": -7.7, "offset": 13},
  "data": {"name": "glyn"},
  "encoding": {"x": {"field": "t", "type": "quantitative", "scale": {"domain": [-2.9, 70], "nice": false, "zero": false}, "axis": null}, "y": {"field": "g", "type": "quantitative", "scale": {"type": "log", "domain": [1, 200000], "nice": false}, "axis": null}},
  "layer": [
   {"transform": [{"filter": "datum.s=='o' && !datum.i"}], "mark": {"type": "line", "color": "#FF8000", "strokeWidth": 4}},
   {"transform": [{"filter": "datum.s=='o'"}], "mark": {"type": "point", "shape": "square", "color": "#FF8000", "size": 22, "strokeWidth": 1}},
   {"transform": [{"filter": "datum.s=='b' && !datum.i"}], "mark": {"type": "line", "color": "#0000FF", "strokeWidth": 4}},
   {"transform": [{"filter": "datum.s=='b'"}], "mark": {"type": "point", "shape": "circle", "color": "#0000FF", "size": 25, "strokeWidth": 1}},
   {"data": {"values": []}, "mark": "point",
    "encoding": {
     "x": {"field": "t", "type": "quantitative", "scale": {"domain": [-2.9, 70], "nice": false, "zero": false}, "axis": {"orient": "bottom", "values": [0,5,10,15,20,25,30,35,40,45,50,55,60,65,70], "labelExpr": "datum.value % 10 === 0 ? datum.label : ''", "tickSize": {"condition": {"test": "datum.value % 10 === 0", "value": -5}, "value": -3}, "labelFontSize": 13.5, "labelPadding": 13, "title": "Time, hrs", "titleFontSize": 22, "titlePadding": 11}},
     "y": {"field": "g", "type": "quantitative", "scale": {"type": "log", "domain": [1, 200000], "nice": false}, "axis": {"orient": "left", "values": [1,2,3,4,5,6,7,8,9,10,20,30,40,50,60,70,80,90,100,200,300,400,500,600,700,800,900,1000,2000,3000,4000,5000,6000,7000,8000,9000,10000,20000,30000,40000,50000,60000,70000,80000,90000,100000,200000], "labelExpr": "indexof([1,10,100,1000,10000,100000], datum.value) >= 0 ? '10' + ['⁰','¹','²','³','⁴','⁵'][round(log(datum.value)/LN10)] : ''", "tickSize": {"condition": {"test": "indexof([1,10,100,1000,10000,100000], datum.value) >= 0", "value": -5}, "value": -3}, "labelFontSize": 15, "labelPadding": 9, "title": "G', Pa", "titleFontSize": 22, "titlePadding": 9}}
    }},
   {"data": {"values": []}, "mark": "point",
    "encoding": {
     "x": {"field": "t", "type": "quantitative", "scale": {"domain": [-2.9, 70], "nice": false, "zero": false}, "axis": {"orient": "top", "values": [0,5,10,15,20,25,30,35,40,45,50,55,60,65,70], "labels": false, "title": null, "tickSize": {"condition": {"test": "datum.value % 10 === 0", "value": -5}, "value": -3}}},
     "y": {"field": "g", "type": "quantitative", "scale": {"type": "log", "domain": [1, 200000], "nice": false}, "axis": {"orient": "right", "values": [1,2,3,4,5,6,7,8,9,10,20,30,40,50,60,70,80,90,100,200,300,400,500,600,700,800,900,1000,2000,3000,4000,5000,6000,7000,8000,9000,10000,20000,30000,40000,50000,60000,70000,80000,90000,100000,200000], "labels": false, "title": null, "tickSize": {"condition": {"test": "indexof([1,10,100,1000,10000,100000], datum.value) >= 0", "value": -5}, "value": -3}}}
    }}
  ],
  "resolve": {"axis": {"x": "independent", "y": "independent"}}
 },
 {"width": 1, "height": 1, "data": {"values": []}, "mark": "point", "encoding": {}, "view": {"stroke": null}},
 {"width": 265, "height": 213,
  "title": {"text": "Peptide+βCD", "dx": -8.5, "offset": 8},
  "data": {"name": "bcd"},
  "encoding": {"x": {"field": "t", "type": "quantitative", "scale": {"domain": [-3.5, 73.5], "nice": false, "zero": false}, "axis": null}, "y": {"field": "g", "type": "quantitative", "scale": {"type": "log", "domain": [1, 100000], "nice": false}, "axis": null}},
  "layer": [
   {"transform": [{"filter": "datum.s=='o' && !datum.i"}], "mark": {"type": "line", "color": "#FF8000", "strokeWidth": 4}},
   {"transform": [{"filter": "datum.s=='o'"}], "mark": {"type": "point", "shape": "square", "color": "#FF8000", "size": 22, "strokeWidth": 1}},
   {"transform": [{"filter": "datum.s=='b' && !datum.i"}], "mark": {"type": "line", "color": "#0000FF", "strokeWidth": 4}},
   {"transform": [{"filter": "datum.s=='b'"}], "mark": {"type": "point", "shape": "circle", "color": "#0000FF", "size": 25, "strokeWidth": 1}},
   {"data": {"values": []}, "mark": "point",
    "encoding": {
     "x": {"field": "t", "type": "quantitative", "scale": {"domain": [-3.5, 73.5], "nice": false, "zero": false}, "axis": {"orient": "bottom", "values": [0,5,10,15,20,25,30,35,40,45,50,55,60,65,70], "labelExpr": "datum.value % 10 === 0 ? datum.label : ''", "tickSize": {"condition": {"test": "datum.value % 10 === 0", "value": -5}, "value": -3}, "labelFontSize": 15, "labelPadding": 12, "title": "Time, hrs", "titleFontSize": 22, "titlePadding": 9}},
     "y": {"field": "g", "type": "quantitative", "scale": {"type": "log", "domain": [1, 100000], "nice": false}, "axis": {"orient": "left", "values": [1,2,3,4,5,6,7,8,9,10,20,30,40,50,60,70,80,90,100,200,300,400,500,600,700,800,900,1000,2000,3000,4000,5000,6000,7000,8000,9000,10000,20000,30000,40000,50000,60000,70000,80000,90000,100000], "labelExpr": "indexof([1,10,100,1000,10000,100000], datum.value) >= 0 ? '10' + ['⁰','¹','²','³','⁴','⁵'][round(log(datum.value)/LN10)] : ''", "tickSize": {"condition": {"test": "indexof([1,10,100,1000,10000,100000], datum.value) >= 0", "value": -5}, "value": -3}, "labelFontSize": 16.5, "labelPadding": 8, "title": "G', Pa", "titleFontSize": 22.5, "titlePadding": 11}}
    }},
   {"data": {"values": []}, "mark": "point",
    "encoding": {
     "x": {"field": "t", "type": "quantitative", "scale": {"domain": [-3.5, 73.5], "nice": false, "zero": false}, "axis": {"orient": "top", "values": [0,5,10,15,20,25,30,35,40,45,50,55,60,65,70], "labels": false, "title": null, "tickSize": {"condition": {"test": "datum.value % 10 === 0", "value": -5}, "value": -3}}},
     "y": {"field": "g", "type": "quantitative", "scale": {"type": "log", "domain": [1, 100000], "nice": false}, "axis": {"orient": "right", "values": [1,2,3,4,5,6,7,8,9,10,20,30,40,50,60,70,80,90,100,200,300,400,500,600,700,800,900,1000,2000,3000,4000,5000,6000,7000,8000,9000,10000,20000,30000,40000,50000,60000,70000,80000,90000,100000], "labels": false, "title": null, "tickSize": {"condition": {"test": "indexof([1,10,100,1000,10000,100000], datum.value) >= 0", "value": -5}, "value": -3}}}
    }}
  ],
  "resolve": {"axis": {"x": "independent", "y": "independent"}}
 }
]
}
